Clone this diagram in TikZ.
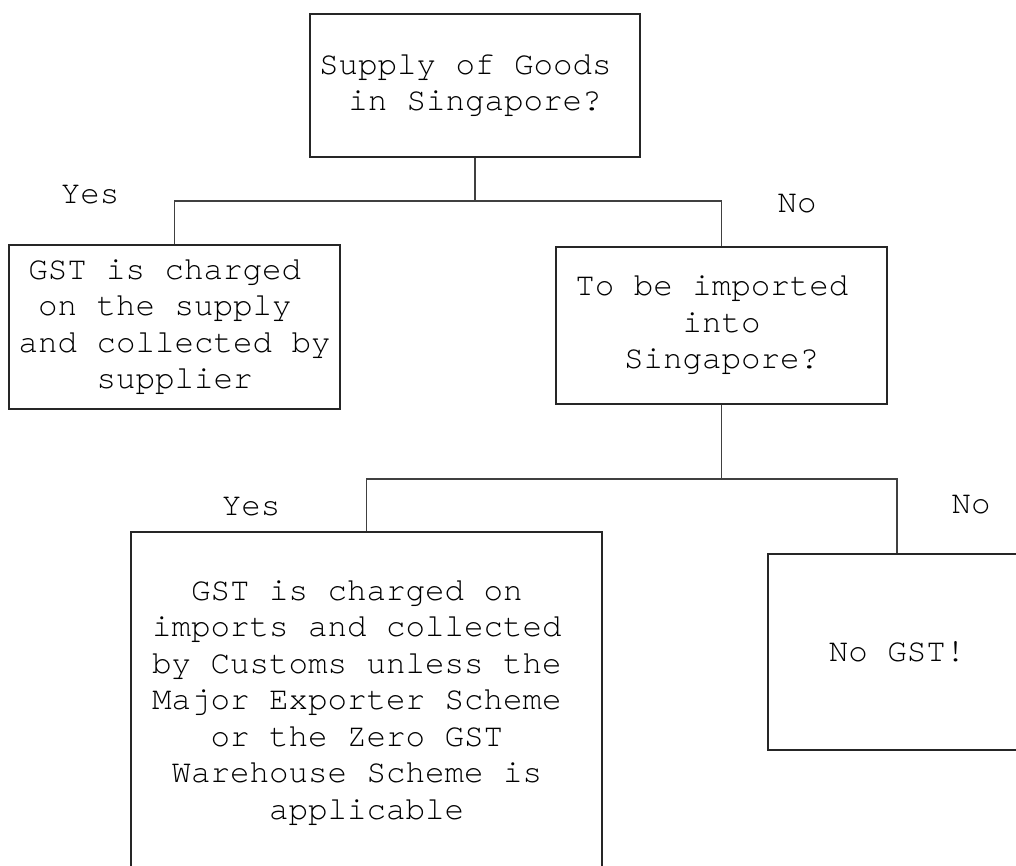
\documentclass[tikz,border=0pt]{standalone}
\usepackage{fontspec}
\newfontfamily\flowmono{TeX Gyre Cursor}
% one blank character cell, kept at the end of a wrapped line
\newcommand\tsp{\hphantom{M}}
\begin{document}
\begin{tikzpicture}[x=1pt,y=-1pt,
  every node/.style={font=\flowmono\fontsize{32.5}{36.5}\selectfont},
  flowbox/.style={draw=black!85,line width=1.1pt,rectangle,inner sep=0pt,align=center},
  link/.style={draw=black!75,line width=1.1pt},
  answer/.style={inner sep=0pt,anchor=center}]
\path[use as bounding box,clip] (0,0) rectangle (1016,866);

% decision and outcome boxes
\node[flowbox,minimum width=330,minimum height=143] (supply) at (475,85.5)
  {Supply of Goods\tsp\\in Singapore?};
\node[flowbox,minimum width=331,minimum height=164] (local) at (174.5,327)
  {GST is charged\tsp\\on the supply\tsp\\and collected by\\supplier};
\node[flowbox,minimum width=331,minimum height=157] (import) at (721.5,325.5)
  {To be imported\tsp\\into\\Singapore?};
\node[flowbox,minimum width=471,minimum height=342] (customs) at (366.5,703)
  {GST is charged on\tsp\\imports and collected\tsp\\by Customs unless the\tsp\\Major Exporter Scheme\tsp\\or the Zero GST\tsp\\Warehouse Scheme is\tsp\\applicable};
\node[flowbox,minimum width=258,minimum height=196] (nogst) at (897,652)
  {No GST!};

% branch labels
\node[answer] (yes1) at (90,195) {Yes};
\node[answer] (no1) at (797,204) {No};
\node[answer] (yes2) at (251,507) {Yes};
\node[answer] (no2) at (971,505) {No};

% junctions of the branches
\coordinate (j1) at (475,201);
\coordinate (j2) at (721.5,479);

% connectors
\draw[link] (supply.south) -- (j1);
\draw[link] (local.north) |- (j1) -| (import.north);
\draw[link] (import.south) -- (j2);
\draw[link] (customs.north) |- (j2) -| (nogst.north);
\end{tikzpicture}
\end{document}
